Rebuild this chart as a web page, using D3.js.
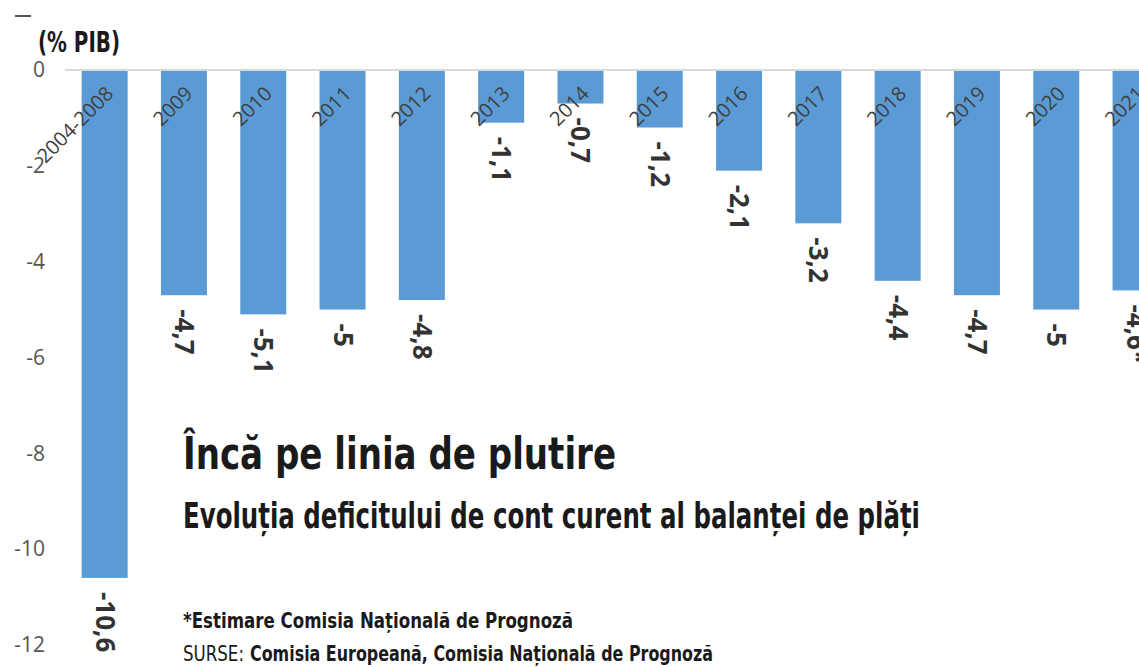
<!DOCTYPE html>
<html>
<head>
<meta charset="utf-8">
<script src="https://cdn.jsdelivr.net/npm/d3@7"></script>
<style>
  html, body { margin: 0; padding: 0; background: #fff; }
  svg { display: block; }
</style>
</head>
<body>
<svg class="svg"></svg>
<script>
// categories and values (% of GDP)
const categories = ['2004-2008', '2009', '2010', '2011', '2012', '2013', '2014',
  '2015', '2016', '2017', '2018', '2019', '2020', '2021'];
const values = [-10.6, -4.7, -5.1, -5, -4.8, -1.1, -0.7, -1.2, -2.1, -3.2, -4.4, -4.7, -5, -4.6];
const valueLabels = ['-10,6', '-4,7', '-5,1', '-5', '-4,8', '-1,1', '-0,7', '-1,2', '-2,1',
  '-3,2', '-4,4', '-4,7', '-5', '-4,6*'];
const yTicks = [0, -2, -4, -6, -8, -10, -12];

const width = 1139;
const height = 667;

const condensed = '"Liberation Sans Narrow", "DejaVu Sans Condensed", "Roboto Condensed", sans-serif';
const plain = '"Open Sans", "Noto Sans", sans-serif';

const svg = d3.select('.svg')
  .attr('width', width)
  .attr('height', height)
  .attr('viewBox', `0 0 ${width} ${height}`);

const x = d3.scaleBand()
  .domain(categories)
  .range([65, 65 + categories.length * 79.3])
  .paddingInner(0.42)
  .paddingOuter(0.21);

const y = d3.scaleLinear()
  .domain([-12, 0])
  .range([645, 70]);

// little mark top-left
svg.append('line')
  .attr('x1', 15).attr('x2', 31)
  .attr('y1', 16).attr('y2', 16)
  .attr('stroke', '#555')
  .attr('stroke-width', 2);

// y axis labels
const yAxis = d3.axisLeft(y)
  .tickValues(yTicks)
  .tickSize(0)
  .tickPadding(0)
  .tickFormat(d => d);

svg.append('g')
  .attr('transform', 'translate(45,0)')
  .call(yAxis)
  .call(g => g.select('.domain').remove())
  .call(g => g.selectAll('text')
    .attr('fill', '#555')
    .style('font-family', plain)
    .style('font-size', '21px'));

// bars
svg.append('g')
  .selectAll('rect')
  .data(values)
  .join('rect')
  .attr('x', (d, i) => x(categories[i]))
  .attr('y', y(0))
  .attr('width', x.bandwidth())
  .attr('height', d => y(d) - y(0))
  .attr('fill', '#5b9bd5');

// zero line
svg.append('line')
  .attr('x1', 65).attr('x2', width)
  .attr('y1', y(0)).attr('y2', y(0))
  .attr('stroke', '#d9d9d9')
  .attr('stroke-width', 2);

// category labels, rotated
svg.append('g')
  .selectAll('text')
  .data(categories)
  .join('text')
  .attr('transform', d => `translate(${x(d) + x.bandwidth() / 2 + 10},${y(0) + 25}) rotate(-45)`)
  .attr('text-anchor', 'end')
  .attr('fill', '#404040')
  .style('font-family', plain)
  .style('font-size', '20px')
  .text(d => d);

// value labels, vertical
svg.append('g')
  .selectAll('text')
  .data(values)
  .join('text')
  .attr('transform', (d, i) => `translate(${x(categories[i]) + x.bandwidth() / 2 - 9},${y(d) + 14}) rotate(90)`)
  .attr('text-anchor', 'start')
  .attr('fill', '#333')
  .style('font-family', plain)
  .style('font-size', '26px')
  .style('font-weight', 700)
  .text((d, i) => valueLabels[i]);

// titles
svg.append('text')
  .attr('x', 38).attr('y', 52)
  .attr('textLength', 82)
  .attr('lengthAdjust', 'spacingAndGlyphs')
  .attr('fill', '#1a1a1a')
  .style('font-family', condensed)
  .style('font-size', '28px')
  .style('font-weight', 700)
  .text('(% PIB)');

svg.append('text')
  .attr('x', 183).attr('y', 469)
  .attr('textLength', 433)
  .attr('lengthAdjust', 'spacingAndGlyphs')
  .attr('fill', '#1a1a1a')
  .style('font-family', condensed)
  .style('font-size', '45px')
  .style('font-weight', 700)
  .text('Încă pe linia de plutire');

svg.append('text')
  .attr('x', 183).attr('y', 528)
  .attr('textLength', 737)
  .attr('lengthAdjust', 'spacingAndGlyphs')
  .attr('fill', '#1a1a1a')
  .style('font-family', condensed)
  .style('font-size', '36px')
  .style('font-weight', 700)
  .text('Evoluția deficitului de cont curent al balanței de plăți');

svg.append('text')
  .attr('x', 183).attr('y', 628)
  .attr('textLength', 390)
  .attr('lengthAdjust', 'spacingAndGlyphs')
  .attr('fill', '#1a1a1a')
  .style('font-family', condensed)
  .style('font-size', '22px')
  .style('font-weight', 700)
  .text('*Estimare Comisia Națională de Prognoză');

// sources line: light prefix, bold names
svg.append('text')
  .attr('x', 183).attr('y', 661)
  .attr('textLength', 61)
  .attr('lengthAdjust', 'spacingAndGlyphs')
  .attr('fill', '#1a1a1a')
  .style('font-family', condensed)
  .style('font-size', '22px')
  .style('font-weight', 400)
  .text('SURSE:');

svg.append('text')
  .attr('x', 250).attr('y', 661)
  .attr('textLength', 463)
  .attr('lengthAdjust', 'spacingAndGlyphs')
  .attr('fill', '#1a1a1a')
  .style('font-family', condensed)
  .style('font-size', '22px')
  .style('font-weight', 700)
  .text('Comisia Europeană, Comisia Națională de Prognoză');
</script>
</body>
</html>
